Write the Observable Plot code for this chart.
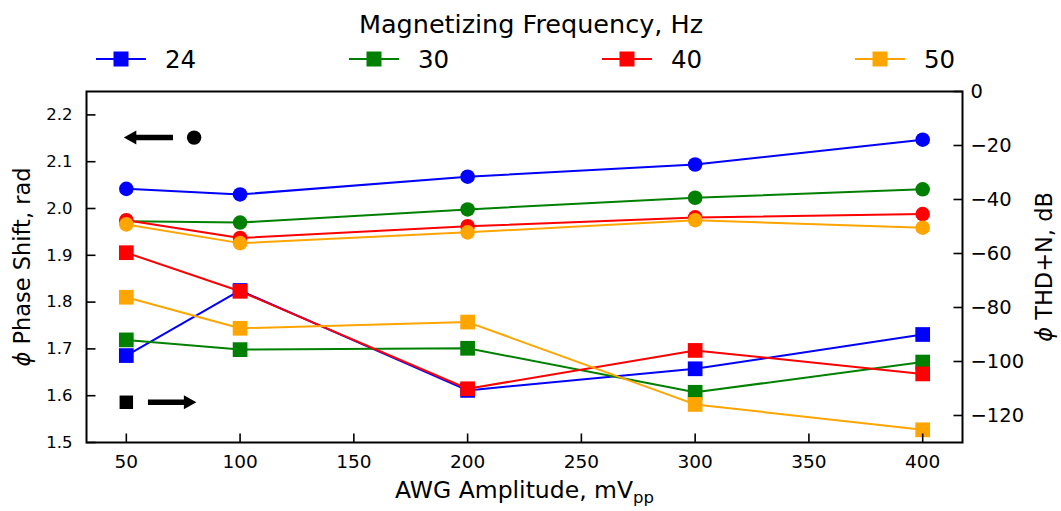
<!DOCTYPE html>
<html><head><meta charset="utf-8">
<script src="https://cdn.jsdelivr.net/npm/d3@7"></script>
<script src="https://cdn.jsdelivr.net/npm/@observablehq/plot@0.6"></script>
<style>
html,body{margin:0;padding:0;background:#fff;}
#chart{width:1061px;height:511px;overflow:hidden;font-family:"DejaVu Sans",sans-serif;color:#000;}
svg{display:block}
</style></head><body><div id="chart"></div>
<script>
// ---- data ----
const amplitudes = [50, 100, 200, 300, 400];
const frequencies = ["24", "30", "40", "50"];
const colors = ["#0000ff", "#008000", "#ff0000", "#ffa500"];
const phase24 = [2.042, 2.030, 2.068, 2.094, 2.147];
const phase30 = [1.973, 1.970, 1.998, 2.023, 2.041];
const phase40 = [1.975, 1.937, 1.962, 1.981, 1.988];
const phase50 = [1.966, 1.926, 1.949, 1.975, 1.959];
const thd24 = [-97.8, -73.7, -110.7, -102.7, -90.0];
const thd30 = [-92.0, -95.6, -95.1, -111.4, -100.2];
const thd40 = [-59.7, -74.0, -110.1, -95.9, -104.6];
const thd50 = [-76.2, -87.7, -85.4, -115.9, -125.3];
const xTicks = [50, 100, 150, 200, 250, 300, 350, 400];
const phaseTicks = [1.5, 1.6, 1.7, 1.8, 1.9, 2.0, 2.1, 2.2];
const thdTicks = [0, -20, -40, -60, -80, -100, -120];
const xDomain = [32.5, 417.5];
const phaseDomain = [1.5, 2.25];
const thdDomain = [-130, 0];
const legendTitle = "Magnetizing Frequency, Hz";
const xLabel = "AWG Amplitude, mV", xLabelSub = "pp";
const phiSymbol = "ϕ";
const yLabelLeft = "Phase Shift, rad";
const yLabelRight = "THD+N, dB";
// annotation keys (circle -> left axis, square -> right axis)
const leftArrow = [{from: 70.5, to: 48.9, phase: 2.1515}];
const circleKey = [{x: 79.8, phase: 2.1515}];
const squareKey = [{x: 50, thd: -115.1}];
const rightArrow = [{from: 59.5, to: 80.8, thd: -115.1}];

// ---- helpers ----
const toPhase = t => phaseDomain[0] + (t - thdDomain[0]) / (thdDomain[1] - thdDomain[0]) * (phaseDomain[1] - phaseDomain[0]);
const fromPhase = p => thdDomain[0] + (p - phaseDomain[0]) / (phaseDomain[1] - phaseDomain[0]) * (thdDomain[1] - thdDomain[0]);
const fmtThd = p => { const t = Math.round(fromPhase(p)); return t < 0 ? "\u2212" + (-t) : String(t); };

const phaseSeries = [phase24, phase30, phase40, phase50];
const thdSeries = [thd24, thd30, thd40, thd50];
const circleRows = phaseSeries.map((s, k) => amplitudes.map((a, i) => ({x: a, y: s[i], freq: frequencies[k]})));
const squareRows = thdSeries.map((s, k) => amplitudes.map((a, i) => ({x: a, y: toPhase(s[i]), thd: s[i], freq: frequencies[k]})));

const tickUp = {draw(ctx) { ctx.moveTo(0, 0); ctx.lineTo(0, -9); }};
const tickRightward = {draw(ctx) { ctx.moveTo(0, 0); ctx.lineTo(9, 0); }};
const tickLeftward = {draw(ctx) { ctx.moveTo(0, 0); ctx.lineTo(-9, 0); }};
const headLeft = {draw(ctx) { ctx.moveTo(0, 0); ctx.lineTo(12.5, -7); ctx.lineTo(12.5, 7); ctx.closePath(); }};

const marks = [];
circleRows.forEach((rows, k) => {
  marks.push(Plot.line(rows, {x: "x", y: "y", stroke: colors[k], strokeWidth: 2}));
  marks.push(Plot.dot(rows, {x: "x", y: "y", fill: colors[k], r: 7.3, symbol: "circle"}));
});
squareRows.forEach((rows, k) => {
  marks.push(Plot.line(rows, {x: "x", y: "y", stroke: colors[k], strokeWidth: 2}));
  marks.push(Plot.dot(rows, {x: "x", y: "y", fill: colors[k], r: 8.3, symbol: "square"}));
});
// annotation arrows
marks.push(Plot.arrow(leftArrow, {x1: "from", x2: "to", y1: "phase", y2: "phase", stroke: "black", strokeWidth: 5.5, headLength: 0, insetEnd: 11, strokeLinecap: "butt"}));
marks.push(Plot.dot(leftArrow, {x: "to", y: "phase", symbol: headLeft, fill: "black", stroke: "none"}));
marks.push(Plot.dot(circleKey, {x: "x", y: "phase", fill: "black", r: 7.2, symbol: "circle"}));
marks.push(Plot.dot(squareKey, {x: "x", y: d => toPhase(d.thd), fill: "black", r: 7.6, symbol: "square"}));
marks.push(Plot.arrow(rightArrow, {x1: "from", x2: "to", y1: d => toPhase(d.thd), y2: d => toPhase(d.thd), stroke: "black", strokeWidth: 5.5, headLength: 0, insetEnd: 11, strokeLinecap: "butt"}));
marks.push(Plot.dot(rightArrow, {x: "to", y: d => toPhase(d.thd), symbol: headLeft, rotate: 180, fill: "black", stroke: "none"}));

// frame & axes
marks.push(Plot.frame({stroke: "black", strokeWidth: 2}));
marks.push(Plot.dot(xTicks, {x: d => d, frameAnchor: "bottom", symbol: tickUp, stroke: "black", fill: "none", strokeWidth: 1.6}));
marks.push(Plot.dot(phaseTicks, {y: d => d, frameAnchor: "left", symbol: tickRightward, stroke: "black", fill: "none", strokeWidth: 1.6}));
marks.push(Plot.dot(thdTicks.map(toPhase), {y: d => d, frameAnchor: "right", symbol: tickLeftward, stroke: "black", fill: "none", strokeWidth: 1.6}));
marks.push(Plot.axisX(xTicks, {anchor: "bottom", tickSize: 0, tickPadding: 12, fontSize: 18.5, label: null}));
marks.push(Plot.axisY(phaseTicks, {anchor: "left", tickSize: 0, tickPadding: 14, fontSize: 16.5, tickFormat: d => d.toFixed(1), label: null}));
marks.push(Plot.axisY(thdTicks.map(toPhase), {anchor: "right", tickSize: 0, tickPadding: 8, fontSize: 19.5, tickFormat: fmtThd, label: null}));
// axis titles
marks.push(Plot.text([xLabel], {text: d => d, frameAnchor: "bottom", dy: 55, lineAnchor: "bottom", textAnchor: "middle", fontSize: 23.5, fill: "black"}));
marks.push(Plot.text([phiSymbol + " " + yLabelLeft], {text: d => d, frameAnchor: "left", dx: -57, rotate: -90, lineAnchor: "bottom", textAnchor: "middle", fontSize: 22.5, fill: "black"}));
marks.push(Plot.text([phiSymbol + " " + yLabelRight], {text: d => d, frameAnchor: "right", dx: 89, rotate: -90, lineAnchor: "bottom", textAnchor: "middle", fontSize: 22.5, fill: "black"}));

const plot = Plot.plot({
  width: 1061, height: 431,
  marginTop: 11, marginBottom: 69, marginLeft: 86, marginRight: 99,
  x: {domain: xDomain},
  y: {domain: phaseDomain},
  style: {fontFamily: "DejaVu Sans", background: "white", color: "black", overflow: "visible"},
  marks
});

// rich text tweaks: italic phi, subscript pp
d3.select(plot).selectAll("text").each(function() {
  const t = this.textContent;
  const sel = d3.select(this);
  if (t === xLabel) {
    sel.text(xLabel);
    sel.append("tspan").attr("dy", 5).attr("font-size", 16.5).text(xLabelSub);
  } else if (t === phiSymbol + " " + yLabelLeft || t === phiSymbol + " " + yLabelRight) {
    const rest = t.slice(phiSymbol.length);
    sel.text(null);
    sel.append("tspan").attr("font-style", "italic").text(phiSymbol);
    sel.append("tspan").text(rest);
  }
});

// legend (above the plot)
const legend = d3.create("svg").attr("width", 1061).attr("height", 80)
  .style("font-family", "DejaVu Sans").style("background", "white");
legend.append("text").attr("x", 531).attr("y", 33).attr("text-anchor", "middle")
  .attr("font-size", 25.5).attr("fill", "black").text(legendTitle);
frequencies.forEach((f, i) => {
  const x0 = 96 + i * 253;
  const g = legend.append("g");
  g.append("line").attr("x1", x0).attr("x2", x0 + 50).attr("y1", 59).attr("y2", 59)
    .attr("stroke", colors[i]).attr("stroke-width", 2);
  g.append("rect").attr("x", x0 + 25 - 7.5).attr("y", 59 - 7.5).attr("width", 15).attr("height", 15).attr("fill", colors[i]);
  g.append("text").attr("x", x0 + 69).attr("y", 59).attr("dy", "0.36em").attr("font-size", 24.5)
    .attr("fill", "black").text(f);
});

const chart = document.getElementById("chart");
chart.appendChild(legend.node());
chart.appendChild(plot);
</script>
</body></html>
